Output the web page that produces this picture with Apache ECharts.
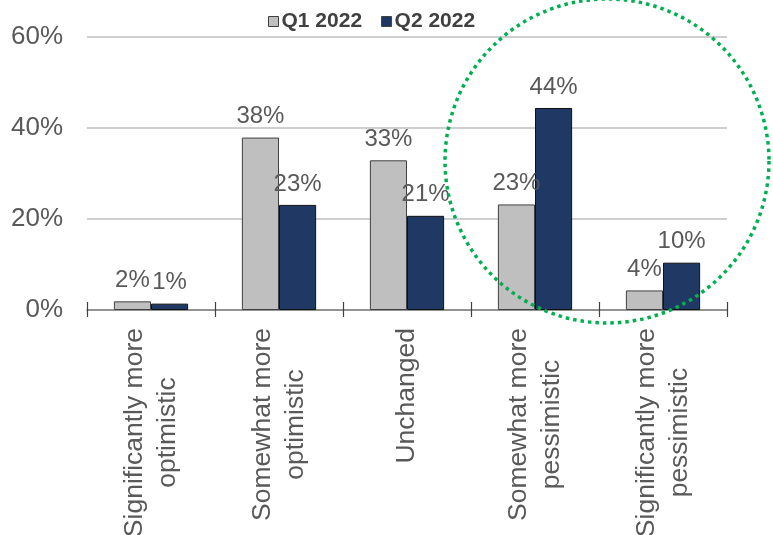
<!DOCTYPE html>
<html>
<head>
<meta charset="utf-8">
<script src="https://cdn.jsdelivr.net/npm/echarts@6/dist/echarts.min.js"></script>
<style>
html,body{margin:0;padding:0;background:#fff;}
#chart{width:773px;height:535px;}
</style>
</head>
<body>
<div id="chart"></div>
<script>
const categories = [
  'Significantly more\noptimistic',
  'Somewhat more\noptimistic',
  'Unchanged',
  'Somewhat more\npessimistic',
  'Significantly more\npessimistic'
];
const seriesNames = ['Q1 2022', 'Q2 2022'];
const q1Values = [1.9, 37.9, 32.9, 23.2, 4.3];
const q2Values = [1.4, 23.1, 20.7, 44.4, 10.4];
const yTicks = [0, 20, 40, 60];

const FONT = '"Liberation Sans", Arial, sans-serif';
const chart = echarts.init(document.getElementById('chart'), null, {renderer: 'canvas'});

const labelStyle = {
  show: true, position: 'top', distance: 9,
  fontFamily: FONT, fontSize: 24, color: '#595959',
  formatter: p => Math.round(p.value) + '%'
};

chart.setOption({
  animation: false,
  backgroundColor: '#ffffff',
  textStyle: {fontFamily: FONT},
  legend: {
    top: 6, left: 263,
    itemWidth: 10, itemHeight: 10, itemGap: 19,
    icon: 'rect',
    itemStyle: {borderColor: '#404040', borderWidth: 1},
    textStyle: {fontFamily: FONT, fontSize: 21, fontWeight: 'bold', color: '#404040', padding: [0, 0, 0, -2]},
    data: seriesNames
  },
  grid: {left: 87, right: 46, top: 37, bottom: 225, containLabel: false, outerBoundsMode: 'none'},
  xAxis: [{
    type: 'category', data: categories,
    axisLine: {show: true, lineStyle: {color: '#808080', width: 1.5}},
    axisTick: {show: true, length: 7, lineStyle: {color: '#404040', width: 1.2}},
    axisLabel: {
      rotate: 90, margin: 18, interval: 0,
      formatter: v => v.split('\n').map(l => '{c|' + l + '}').join('\n'),
      rich: {c: {align: 'center', fontFamily: FONT, fontSize: 26.5, lineHeight: 33, color: '#595959'}}
    }
  }, {
    type: 'category', data: categories, position: 'bottom', gridIndex: 0,
    axisLine: {show: false},
    axisTick: {show: true, inside: true, length: 8, lineStyle: {color: '#404040', width: 1.2}},
    axisLabel: {show: false}
  }],
  yAxis: {
    type: 'value', min: yTicks[0], max: yTicks[yTicks.length - 1], interval: 20,
    axisLine: {show: false}, axisTick: {show: false},
    splitLine: {lineStyle: {color: '#BFBFBF', width: 1.5}},
    axisLabel: {formatter: v => v + '%', fontFamily: FONT, fontSize: 26, color: '#595959', margin: 24}
  },
  series: [{
    name: seriesNames[0], type: 'bar', data: q1Values,
    barGap: '0%', barCategoryGap: '42%',
    itemStyle: {color: '#BFBFBF', borderColor: '#404040', borderWidth: 1},
    label: labelStyle
  }, {
    name: seriesNames[1], type: 'bar', data: q2Values,
    barGap: '0%', barCategoryGap: '42%',
    itemStyle: {color: '#203864', borderColor: '#111111', borderWidth: 1},
    label: labelStyle
  }],
  graphic: [{
    type: 'circle', z: 100, silent: true,
    shape: {cx: 607, cy: 161, r: 162},
    style: {fill: null, stroke: '#00B050', lineWidth: 3.5, lineDash: [3.5, 4]}
  }]
});
</script>
</body>
</html>
